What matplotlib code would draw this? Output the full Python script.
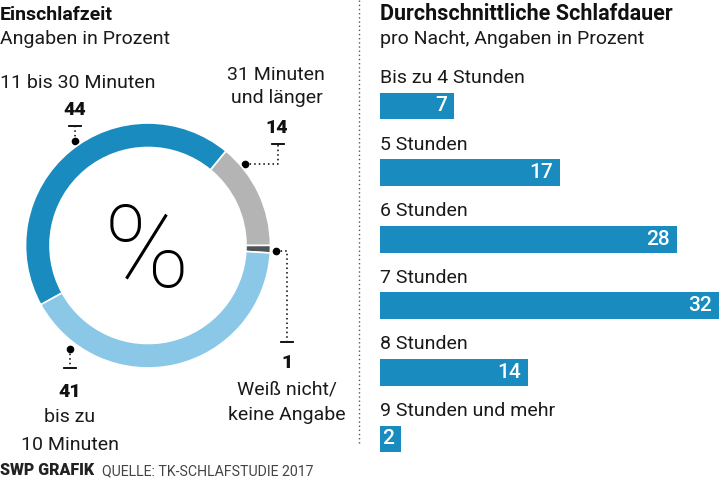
import matplotlib.pyplot as plt
import numpy as np

# Data
# =====
ring_labels = ['Weiß nicht/\nkeine Angabe', '31 Minuten\nund länger', '11 bis 30 Minuten', 'bis zu\n10 Minuten']
ring_values = [1, 14, 44, 41]
ring_colors = ['#4e5357', '#b4b4b4', '#1a8bbf', '#8bc8e8']

bar_labels = ['Bis zu 4 Stunden', '5 Stunden', '6 Stunden', '7 Stunden', '8 Stunden', '9 Stunden und mehr']
bar_values = [7, 17, 28, 32, 14, 2]
BAR_COLOR = '#1a8bbf'

# Layout (pixels of a 720x478 canvas)
# =====
W, H = 720, 478
CX, CY, R = 148, 245.5, 122.5
FONT = ['Roboto', 'DejaVu Sans']
plt.rcParams['font.family'] = FONT

fig = plt.figure(figsize=(W / 100, H / 100), dpi=100)

# donut
ax = fig.add_axes([(CX - R) / W, (H - CY - R) / H, 2 * R / W, 2 * R / H])
ax.pie(ring_values, colors=ring_colors, startangle=-3.5, counterclock=True,
       radius=1, wedgeprops=dict(width=0.2, edgecolor='white', linewidth=1.2))
ax.set_xlim(-1, 1)
ax.set_ylim(-1, 1)

# overlay in pixel coordinates for texts and leaders
ov = fig.add_axes([0, 0, 1, 1], zorder=-1)
ov.set_xlim(0, W)
ov.set_ylim(H, 0)
ov.axis('off')

ov.text(CX - 1, 287, '%', ha='center', va='baseline', fontsize=83,
        fontweight='light', color='black')


def ring_point(angle, r=126):
    a = np.deg2rad(angle)
    return CX + r * np.cos(a), CY - r * np.sin(a)


def dot(x, y):
    ov.plot([x], [y], 'o', color='black', ms=4.5, zorder=5)


def dotted(xs, ys):
    ov.plot(xs, ys, color='black', lw=1.1, ls=(0, (1, 2)), zorder=4)


def tick(x, y):
    ov.plot([x - 6, x + 6], [y, y], color='black', lw=1.3)


TXT = dict(fontsize=14, color='#1a1a1a')
NUM = dict(fontsize=14, fontweight='heavy', color='#111111')

# titles left
ov.text(0, 20, 'Einschlafzeit', fontsize=14, fontweight='bold', va='baseline', color='#111111')
ov.text(0, 44, 'Angaben in Prozent', va='baseline', **TXT)

# 44 - 11 bis 30 Minuten
x, y = ring_point(125, r=127)
dot(x, y)
dotted([x, x], [y, 127])
tick(x, 126)
ov.text(x, 115, str(ring_values[2]), ha='center', va='baseline', **NUM)
ov.text(0, 88, ring_labels[2], ha='left', va='baseline', **TXT)

# 14 - 31 Minuten und länger
x, y = ring_point(40, r=127)
dot(x, y)
dotted([x, 278, 278], [y, y, 145])
tick(278, 144)
ov.text(277, 133, str(ring_values[1]), ha='center', va='baseline', **NUM)
ov.text(276, 80, '31 Minuten', ha='center', va='baseline', **TXT)
ov.text(277, 103, 'und länger', ha='center', va='baseline', **TXT)

# 1 - Weiß nicht
x, y = ring_point(-2.5, r=128)
dot(x, y)
dotted([x, 287, 287], [y, y, 341])
tick(287, 342)
ov.text(287, 368, str(ring_values[0]), ha='center', va='baseline', **NUM)
ov.text(287, 395, 'Weiß nicht/', ha='center', va='baseline', **TXT)
ov.text(287, 420, 'keine Angabe', ha='center', va='baseline', **TXT)

# 41 - bis zu 10 Minuten
x, y = ring_point(233, r=130)
dot(x, y)
dotted([x, x], [y, 367])
tick(x, 368)
ov.text(x, 397, str(ring_values[3]), ha='center', va='baseline', **NUM)
ov.text(x, 422, 'bis zu', ha='center', va='baseline', **TXT)
ov.text(x, 450, '10 Minuten', ha='center', va='baseline', **TXT)

# footer
ov.text(0, 475, 'SWP GRAFIK', fontsize=11.5, fontweight='heavy', va='baseline', color='#222222')
ov.text(102, 475, 'QUELLE: TK-SCHLAFSTUDIE 2017', fontsize=10.2, va='baseline', color='#444444')

# divider
ov.plot([359, 359], [0, 445], color='#555555', lw=1, ls=(0, (1, 2)))

# titles right
ov.text(380, 20, 'Durchschnittliche Schlafdauer', fontsize=15.5, fontweight='bold',
        va='baseline', color='#111111')
ov.text(380, 44, 'pro Nacht, Angaben in Prozent', va='baseline', **TXT)

# bars
bx = fig.add_axes([380 / W, 5.7 / H, 340 / W, 399.6 / H])
y = np.arange(len(bar_values))
bx.barh(y, bar_values, height=0.405, color=BAR_COLOR)
bx.set_xlim(0, 32.1)
bx.set_ylim(len(bar_values) - 0.5, -0.5)
bx.axis('off')
for i, (lab, v) in enumerate(zip(bar_labels, bar_values)):
    bx.text(0, i - 0.42, lab, ha='left', va='center', fontsize=14, color='#1a1a1a')
    bx.annotate(str(v), (v, i), xytext=(-5, 0), textcoords='offset points',
                ha='right', va='center', fontsize=15, fontweight='medium', color='white')

fig.savefig('out.png', dpi=100, facecolor='white')
